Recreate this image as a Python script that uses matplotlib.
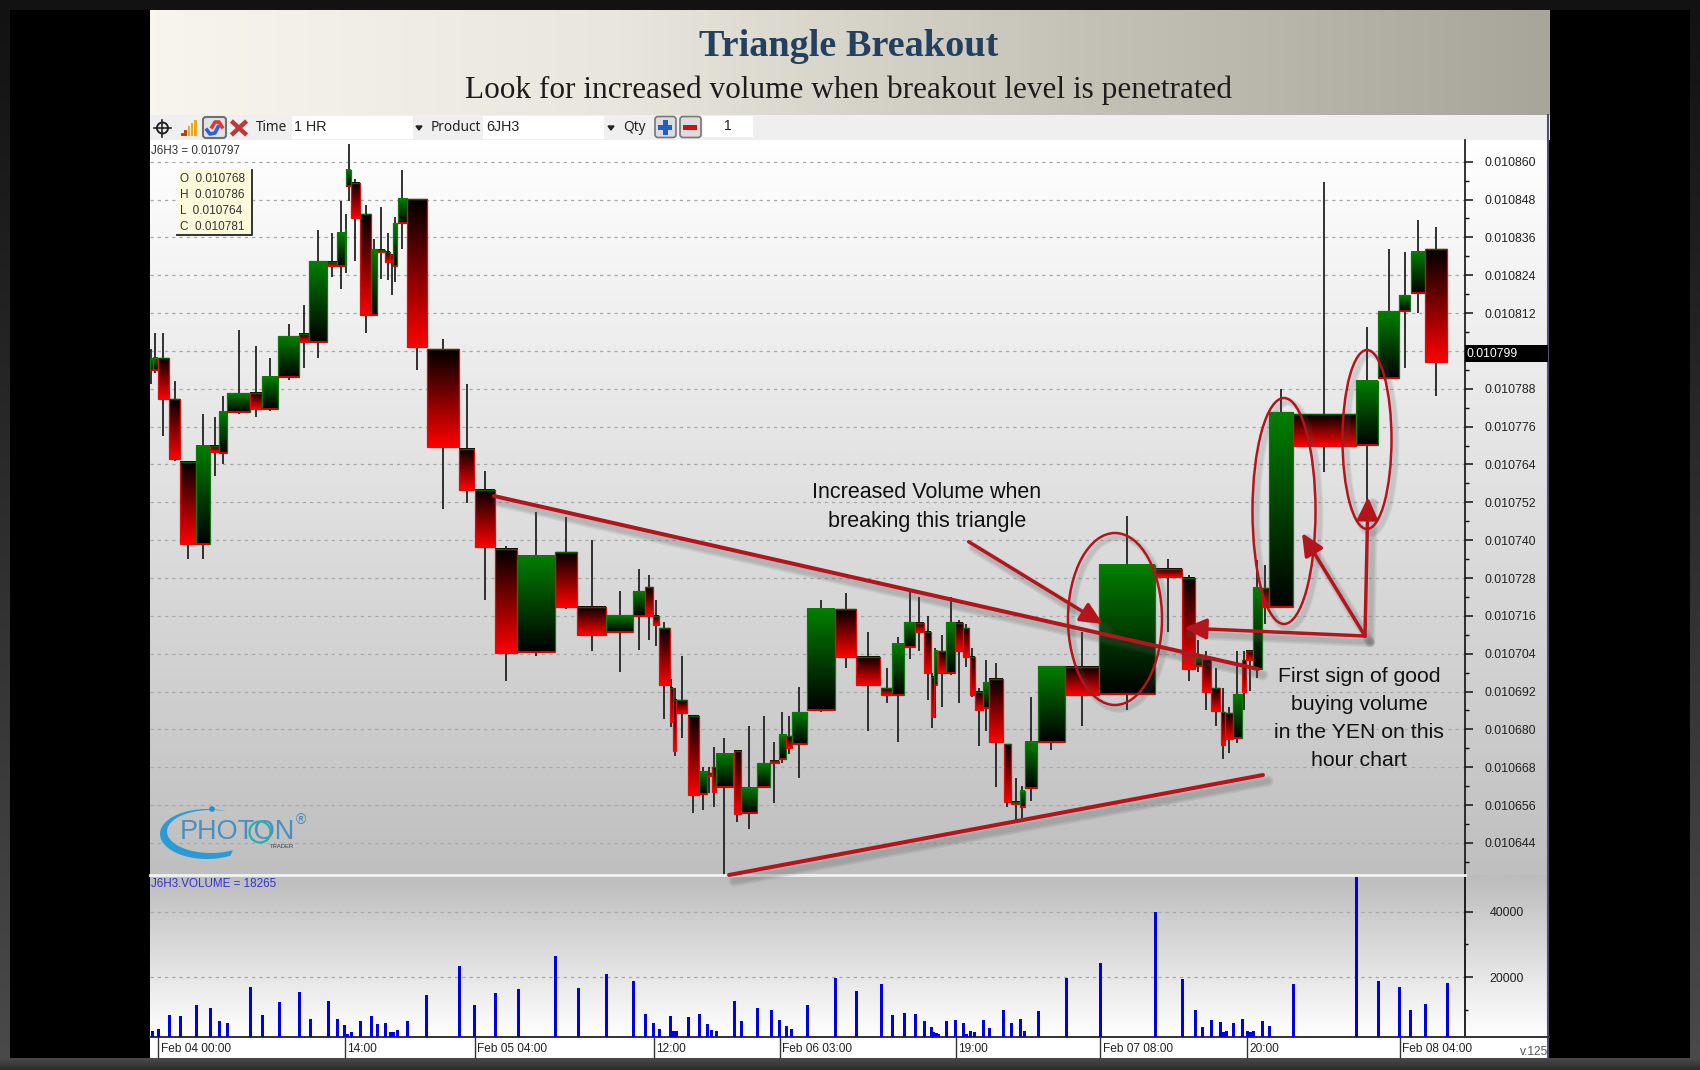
import numpy as np
import matplotlib
matplotlib.use("Agg")
import matplotlib.pyplot as plt
from matplotlib.colors import LinearSegmentedColormap
from matplotlib.patches import Rectangle, Ellipse, Circle, FancyBboxPatch

# candles: prices are in millionths above 0.010000, x positions are chart pixels
# (the platform draws candles with a width that follows volume)
candle_left = [150, 152.9, 157.9, 169.3, 180.4, 195.7, 210, 219.3, 227.1, 250,
               261.8, 278.2, 298.9, 309.3, 327.1, 337.5, 345, 346.4, 351.1, 360.4,
               371.1, 377.5, 385.4, 390, 393.2, 397.9, 407.1, 427.1, 458.9, 475,
               495, 517.5, 554.6, 577.5, 606.4, 632.9, 645, 652.9, 658.9, 670,
               673.2, 676.4, 687.9, 698.6, 706.8, 712.1, 715.7, 733.6, 741.4, 757.1,
               770, 778.6, 786.4, 791.8, 807.5, 835, 856.4, 880.7, 892.5, 904.3,
               915, 924.3, 931.1, 933.6, 937.9, 946.4, 955, 963.2, 970, 974.6,
               983.2, 988.9, 1003.6, 1011.1, 1020, 1024.6, 1038, 1065, 1099.3, 1155,
               1182.3, 1195, 1202, 1211.3, 1220.7, 1225, 1233.3, 1242.3, 1246, 1253.3,
               1261.7, 1268.7, 1293.3, 1356, 1378.3, 1399.3, 1410.7, 1425.3]
candle_right = [152.9, 157.9, 168.6, 180, 195.7, 210, 219.3, 226.8, 250, 261.8,
                277.9, 298.9, 309.3, 327.1, 337.5, 345, 346.4, 351.1, 359.6, 371.1,
                377.5, 385.4, 390, 393.2, 397.1, 407.1, 426.8, 458.6, 474.3, 494.6,
                517.5, 554.6, 576.8, 606, 632.9, 645, 652.9, 658.6, 669.6, 672.9,
                676.4, 687.5, 698.6, 706.8, 712.1, 715.7, 733.2, 741.4, 756.8, 770,
                778.6, 786.4, 791.8, 807.1, 835, 856.1, 880.4, 892.5, 903.9, 915,
                923.9, 931.1, 933.6, 937.1, 946.4, 955, 962.9, 969.3, 974.6, 982.9,
                988.9, 1002.9, 1011.1, 1020, 1024.6, 1037.5, 1065, 1099.3, 1155, 1181.7,
                1195, 1202, 1211, 1220, 1225, 1233.3, 1241.7, 1246, 1253.3, 1261.7,
                1268.7, 1293.3, 1355.7, 1378, 1399, 1410.3, 1425.3, 1447]
opens = [794, 793.8, 797.7, 784.8, 764.9, 738.7, 769.9, 767.6, 780.6, 786.6,
         781.5, 791.7, 805.4, 802.8, 828.2, 826.8, 826.8, 852.3, 853.4, 843.3,
         811.5, 832.1, 831.5, 830.5, 827, 840.5, 848.3, 800.5, 768.8, 755.8,
         737.1, 704.4, 736.1, 718.8, 710.9, 716.1, 725, 716, 712, 693,
         689.3, 689.2, 684.3, 659.4, 666.1, 668.2, 661.7, 673.3, 653.4, 661.9,
         670.1, 670.5, 678, 675.3, 686, 718.1, 703.1, 693, 690.9, 706,
         713.8, 711, 696.7, 694.1, 704.9, 698, 713.8, 712, 703.1, 692,
         686.9, 696, 675.3, 657.1, 655.3, 661.3, 676.1, 699.9, 691.1, 730.9,
         728.1, 700.2, 702.2, 693, 685.4, 685.1, 677.2, 702, 704.9, 699.2,
         724.7, 718.9, 779.9, 770.2, 791.5, 812.7, 818.3, 832.3]
closes = [797.7, 797.7, 784.8, 765.8, 738.7, 769.9, 767.8, 780.6, 786.6, 781.5,
          791.7, 804.6, 802.7, 828.4, 826.8, 837.3, 838.4, 857.4, 842.2, 811.4,
          832.4, 831.4, 828.3, 828.1, 840.5, 848.3, 801.4, 769.7, 755.8, 737.7,
          704.1, 735, 718.7, 709.8, 716.2, 723.9, 716, 713, 694.1, 682.2,
          673, 685.1, 659.2, 666.4, 665.3, 660.3, 672.2, 653.1, 661.4, 669.4,
          669.3, 678.2, 674.2, 685.4, 718.3, 703.1, 694.1, 690.9, 707.1, 713.9,
          710.9, 698, 684, 705, 698, 713.9, 704.9, 703.1, 690.9, 686,
          695, 675.9, 657.1, 656.4, 660.5, 676.1, 700.1, 690.9, 732.1, 728.2,
          699.2, 703.1, 692, 685.9, 675.1, 677, 691.1, 692, 702, 724.9,
          718.9, 780.7, 769.9, 790.6, 812.7, 817.7, 831.5, 796.5]
highs = [800.5, 805.6, 805.6, 790.6, 764.9, 780, 778.9, 785.7, 806.7, 801.6,
         797.9, 808.6, 814.6, 838.4, 837.3, 847.4, 843.3, 865.5, 854.4, 846.3,
         835.5, 845.6, 837.3, 830.5, 842.4, 857.4, 848.3, 803.8, 789.6, 761.8,
         738, 748.8, 747.2, 740, 723.9, 731, 728.9, 721, 713.9, 696,
         693, 703.3, 684.3, 668.2, 668.2, 674.3, 677.2, 673.3, 681.1, 684.4,
         676.1, 685.4, 684.3, 693.3, 721, 723.2, 711, 699.4, 709.4, 723.7,
         721.9, 716.1, 698, 705.9, 710, 722.1, 714.7, 713.4, 705.9, 693,
         702, 701.2, 675.3, 664.5, 662.1, 690.4, 700.1, 711, 747.8, 733.9,
         729, 708.4, 705, 699.4, 693, 687.2, 705, 705, 704.9, 733.7,
         732.1, 787.8, 853.5, 807.7, 832.3, 831.5, 841.5, 839.4]
lows = [789.6, 792.9, 772.9, 765.1, 734, 734, 760.2, 764, 779.9, 779,
        780.8, 790.8, 794.7, 797.9, 823.6, 819.6, 824.6, 847.4, 828.4, 805.8,
        811.4, 822.8, 822.5, 817.8, 821.8, 832.4, 794, 750, 751.9, 721,
        695.2, 703.4, 718.2, 705, 698.3, 705.2, 708.4, 706.3, 683.3, 680.7,
        671.6, 677.4, 653.4, 654.5, 659.8, 655.5, 633.9, 650.6, 648.4, 661.7,
        656.6, 669.5, 672.2, 664.5, 685.4, 699.4, 679.5, 688.3, 676.1, 702.2,
        705, 689.3, 680.4, 683.5, 687.2, 697.3, 688.3, 699.9, 690.4, 674.6,
        679.6, 661.7, 655.5, 651.3, 651.8, 657.3, 673.5, 681.2, 686.2, 711,
        695.2, 698.3, 686.2, 681.1, 670.5, 672.4, 675.6, 686.2, 692.3, 696.2,
        713.3, 718.9, 761.7, 745, 791, 794.7, 811.9, 785.7]

volume_x = [152.6, 158.4, 169.6, 180.7, 196.2, 210.8, 220, 227.3, 251, 262.2,
            279.1, 300, 310.1, 328.1, 337.8, 344.6, 347.5, 351.3, 360.1, 371.2,
            378, 385.8, 390.6, 393.5, 397.9, 407.1, 427, 459.4, 475, 495.3,
            519, 555.4, 578.2, 606.8, 633.5, 646, 653.8, 659.2, 670.3, 673.2,
            676.6, 688.2, 699.4, 707.6, 711.5, 716.3, 734.3, 742, 757.5, 771.1,
            779.4, 786.6, 792, 807.5, 835.6, 856.4, 881.1, 892.3, 904.6, 915.6,
            924.5, 931.3, 933.9, 936.5, 938.6, 946.9, 955.8, 963.7, 966.3, 970.5,
            974.7, 983.6, 989.3, 1004, 1011.8, 1020.7, 1024.9, 1038.5, 1066.2, 1100.2,
            1155.6, 1182.3, 1195.4, 1202.7, 1211.1, 1220.5, 1223.1, 1226.2, 1233.6, 1242.4,
            1247.7, 1250.8, 1254, 1262.8, 1269.6, 1293.7, 1356.5, 1378.4, 1399.9, 1410.9,
            1425.5, 1447.5]
volumes = [3430, 4250, 8330, 8020, 11390, 10680, 6600, 5880, 16900, 8330,
           12400, 15470, 7310, 12720, 7210, 5470, 2720, 3130, 6600, 8230,
           5580, 5880, 3130, 3330, 3740, 6600, 14450, 23430, 11390, 15160,
           16490, 26490, 16590, 21080, 18940, 8640, 5880, 4150, 8230, 3430,
           3430, 7920, 8640, 5580, 3740, 3430, 12720, 6600, 10680, 9960,
           6900, 5170, 4150, 11390, 19650, 15880, 17920, 8330, 8940, 8640,
           6600, 4860, 3130, 2920, 2720, 6600, 6900, 5880, 2720, 3430,
           3130, 6900, 4450, 9960, 5880, 7210, 3430, 9660, 19650, 24450,
           39950, 19380, 9990, 4900, 6940, 6220, 3160, 3470, 5920, 7240,
           3470, 3160, 3470, 6630, 5200, 17950, 50490, 18970, 16930, 9990,
           11730, 18265]

price_ticks = list(range(644, 861, 12))
volume_ticks = [20000, 40000]
time_x = [158.4, 344.6, 475, 653.8, 779.9, 955.8, 1100.2, 1247, 1399.9]
time_labels = ["Feb 04 00:00", "14:00", "Feb 05 04:00", "12:00", "Feb 06 03:00",
               "19:00", "Feb 07 08:00", "20:00", "Feb 08 04:00"]
ohlc_labels = ["O  0.010768", "H  0.010786", "L  0.010764", "C  0.010781"]

W, H = 1700, 1070
SANS = "Liberation Sans"
SERIF = "Liberation Serif"
LINE_RED = "#b4141c"
plt.rcParams["font.family"] = [SANS, "DejaVu Sans"]


def gradient(ax, x0, x1, y0, y1, c0, c1, horizontal=False, zorder=1):
    # y0 is the top edge in the axes' own data units
    cmap = LinearSegmentedColormap.from_list("g", [c0, c1])
    ramp = np.linspace(0, 1, 128)
    ramp = ramp.reshape(1, -1) if horizontal else ramp.reshape(-1, 1)
    ax.imshow(ramp, extent=(x0, x1, y1, y0), origin="upper", aspect="auto",
              cmap=cmap, vmin=0, vmax=1, zorder=zorder, interpolation="bilinear")


def pixel_axes(fig, zorder):
    ax = fig.add_axes([0, 0, 1, 1], zorder=zorder)
    ax.set_xlim(0, W)
    ax.set_ylim(H, 0)
    ax.axis("off")
    ax.patch.set_alpha(0)
    return ax


def pane_axes(fig, x0, x1, y0, y1, zorder=2):
    ax = fig.add_axes([x0 / W, 1 - y1 / H, (x1 - x0) / W, (y1 - y0) / H], zorder=zorder)
    ax.patch.set_alpha(0)
    return ax


fig = plt.figure(figsize=(W / 100, H / 100), dpi=100, facecolor="#141414")

# ---- frame, header band, pane backgrounds
bg = pixel_axes(fig, 0)
gradient(bg, 0, W, 0, H, "#121212", "#4a4a4a")
gradient(bg, 0, W, 1058, H, "#4a4a4a", "#2c2c2c", zorder=1.1)
bg.add_patch(Rectangle((10, 10), 1680, 1048, fc="black", ec="none", zorder=2))
cmap_head = LinearSegmentedColormap.from_list("h", ["#f8f5ee", "#e9e6dd", "#c4c1b6", "#a8a69a"])
bg.imshow(np.linspace(0, 1, 256).reshape(1, -1), extent=(150, 1550, 115, 10), aspect="auto",
          cmap=cmap_head, zorder=3)
bg.add_patch(Rectangle((150, 115), 1400, 25, fc="#efefef", ec="none", zorder=3))
gradient(bg, 150, 1549, 140, 875, "#ffffff", "#bfbfbf", zorder=3)
gradient(bg, 150, 1549, 875, 1037, "#bcbcbc", "#ffffff", zorder=3)
bg.add_patch(Rectangle((150, 1037), 1399, 21, fc="white", ec="none", zorder=3))
bg.plot([1548.5, 1548.5], [115, 1058], color="#50506e", lw=1.5, zorder=4)
bg.set_xlim(0, W)
bg.set_ylim(H, 0)

bg.text(849, 47, "Triangle Breakout", family=SERIF, weight="bold", fontsize=27.5,
        color="#24405f", ha="center", va="center", zorder=5)
bg.text(849, 90, "Look for increased volume when breakout level is penetrated", family=SERIF,
        fontsize=22.5, color="#1c1c1c", ha="center", va="center", zorder=5)

# ---- toolbar
bg.add_patch(Rectangle((292, 116), 121, 23, fc="white", ec="none", zorder=4))
bg.add_patch(Rectangle((483, 116), 121, 23, fc="white", ec="none", zorder=4))
bg.add_patch(Rectangle((703, 116), 50, 21, fc="white", ec="none", zorder=4))
bg.add_patch(Circle((162.5, 128), 5.5, fc="none", ec="#222222", lw=1.4, zorder=5))
bg.plot([154, 171], [128, 128], color="#222222", lw=1.2, zorder=5)
bg.plot([162.5, 162.5], [119.5, 136.5], color="#222222", lw=1.2, zorder=5)
for i, bar_h in enumerate([3, 6, 10, 13, 16]):
    bg.add_patch(Rectangle((181 + i * 3.3, 136 - bar_h), 2.6, bar_h,
                           fc="#b04a10" if i < 2 else "#e8a820", ec="none", zorder=5))
bg.add_patch(FancyBboxPatch((203, 117), 23, 21, boxstyle="round,pad=0,rounding_size=3",
                            fc="#e2e2e2", ec="#707070", lw=1.5, zorder=5))
bg.plot([207, 210, 215, 218], [130, 134, 133, 127], color="#2a62d8", lw=2.6, zorder=6)
bg.plot([212, 215, 219, 222], [127, 122, 122, 127], color="#d83a3a", lw=2.6, zorder=6)
bg.plot([233, 245], [122.5, 133.5], color="#b83a3a", lw=3.2, zorder=5)
bg.plot([233, 245], [133.5, 122.5], color="#b83a3a", lw=3.2, zorder=5)
for x, s in [(256, "Time"), (431, "Product"), (623, "Qty")]:
    bg.text(x, 127.5, s, fontsize=9.8, color="#222222", va="center", family="Noto Sans", zorder=6)
bg.text(294, 127, "1 HR", fontsize=10.3, color="#222222", va="center", zorder=6)
bg.text(486, 127, "6JH3", fontsize=10.3, color="#222222", va="center", zorder=6)
bg.text(728, 126, "1", fontsize=10, color="#222222", ha="center", va="center", zorder=6)
for x in [419, 611]:
    bg.fill([x - 3, x + 3, x], [126, 126, 130], color="#222222", zorder=6)
for x, mark in [(655, "#2060c0"), (680, "#d01010")]:
    bg.add_patch(FancyBboxPatch((x, 116.5), 21, 21, boxstyle="round,pad=0,rounding_size=3",
                                fc="#dcdcdc", ec="#777777", lw=1.2, zorder=5))
    bg.add_patch(Rectangle((x + 3.5, 125), 14, 4.5, fc=mark, ec="none", zorder=6))
bg.add_patch(Rectangle((662.8, 120), 5, 14.5, fc="#2060c0", ec="none", zorder=6))

# ---- price pane
ax = pane_axes(fig, 150, 1465, 140, 875)
ylim_price = (860 - (875 - 161.7) / 3.154, 860 + (161.7 - 140) / 3.154)
ax.set_xlim(150, 1465)
ax.set_ylim(*ylim_price)
ax.yaxis.tick_right()
ax.set_yticks(price_ticks)
ax.set_yticks([t + 6 for t in price_ticks[:-1]] + [638], minor=True)
# the 0.010800 label sits under the current price tag
ax.set_yticklabels(["" if t == 800 else f"{0.01 + t * 1e-6:.6f}" for t in price_ticks],
                   fontsize=8.9, color="#222222")
ax.tick_params(axis="y", which="major", length=5.7, width=1.1, pad=8, color="#111111")
ax.tick_params(axis="y", which="minor", length=2.9, width=1, color="#111111")
ax.set_xticks([])
for side in ["left", "top", "bottom"]:
    ax.spines[side].set_visible(False)
ax.spines["right"].set_linewidth(1.2)
ax.spines["right"].set_color("#111111")
for t in price_ticks:
    ax.axhline(t, color="#a8a8a8", lw=0.9, ls=(0, (2.6, 3.2)), zorder=1)

for l, r, o, c, hi, lo in zip(candle_left, candle_right, opens, closes, highs, lows):
    mid = (l + r) / 2
    ax.plot([mid, mid], [lo, hi], color="#222222", lw=1.3, zorder=2, solid_capstyle="butt")
    body_top, body_bottom = max(o, c), min(o, c)
    if c >= o:
        gradient(ax, l, r, body_top, body_bottom, "#008000", "#000000", zorder=3)
        ax.add_patch(Rectangle((l, body_bottom), r - l, body_top - body_bottom, fc="none",
                               ec="#107810", lw=0.9, zorder=4))
        ax.plot([l, r], [body_bottom, body_bottom], color="#e00000", lw=1.3, zorder=4, solid_capstyle="butt")
    else:
        gradient(ax, l, r, body_top, body_bottom, "#000000", "#ff0000", zorder=3)
        ax.add_patch(Rectangle((l, body_bottom), r - l, body_top - body_bottom, fc="none",
                               ec="#d81010", lw=0.9, zorder=4))
        ax.plot([l, r], [body_top, body_top], color="#0a5a0a", lw=1, zorder=4, solid_capstyle="butt")
ax.set_xlim(150, 1465)
ax.set_ylim(*ylim_price)

# ---- volume pane
vax = pane_axes(fig, 150, 1465, 875, 1037)
vax.set_xlim(150, 1465)
vax.set_ylim(1715, 51240)
vax.bar(volume_x, volumes, width=3, color="#0000e6", zorder=3)
vax.yaxis.tick_right()
vax.set_yticks(volume_ticks)
vax.set_yticks([10000, 30000], minor=True)
vax.set_yticklabels([str(v) for v in volume_ticks], fontsize=8.9, color="#222222")
vax.tick_params(axis="y", which="major", length=5.7, width=1.1, pad=12, color="#111111")
vax.tick_params(axis="y", which="minor", length=2.2, width=1, color="#111111")
for v in volume_ticks:
    vax.axhline(v, color="#a8a8a8", lw=0.9, ls=(0, (2.6, 3.2)), zorder=1)
vax.set_xticks(time_x)
vax.set_xticklabels([])
vax.tick_params(axis="x", length=15, width=1, color="#333333")
for side in ["left", "top"]:
    vax.spines[side].set_visible(False)
vax.spines["right"].set_linewidth(1.2)
vax.spines["bottom"].set_bounds(150, 1465)
vax.spines["bottom"].set_color("#333333")
vax.spines["bottom"].set_linewidth(1.4)

# ---- overlay: labels and hand-drawn markup, in figure pixels
top = pixel_axes(fig, 3)
top.plot([1465, 1549], [1037, 1037], color="#333333", lw=1.4)
top.plot([150, 1465], [874.5, 874.5], color="#f2f2f2", lw=2)
for x, s in zip(time_x, time_labels):
    top.text(x + 2.5, 1049, s, fontsize=8.6, color="#222222", va="center")
top.text(1548, 1052, "v.125", fontsize=8.6, color="#555555", va="center", ha="right")
top.text(151, 151, "J6H3 = 0.010797", fontsize=8.4, color="#333333", va="center")
top.text(151, 884, "J6H3.VOLUME = 18265", fontsize=8.4, color="#3333cc", va="center")

# current price tag and OHLC box
top.add_patch(Rectangle((1465.5, 345), 83, 17, fc="black", ec="none"))
top.text(1466.5, 354, "0.010799", fontsize=8.7, color="white", va="center")
top.add_patch(Rectangle((177.5, 170), 74, 64, fc="#fdfadc", ec="none"))
top.plot([177.5, 252, 252], [234.5, 234.5, 170], color="#333333", lw=1.4)
for i, s in enumerate(ohlc_labels):
    top.text(180, 178.5 + 16 * i, s, fontsize=8.5, color="#333333", va="center")

top.text(927, 493, "Increased Volume when", fontsize=15.5, color="#111111", ha="center", va="center")
top.text(927, 521, "breaking this triangle", fontsize=15.5, color="#111111", ha="center", va="center")
for i, s in enumerate(["First sign of good", "buying volume", "in the YEN on this", "hour chart"]):
    top.text(1359, 676 + 28.2 * i, s, fontsize=15.3, color="#111111", ha="center", va="center")


def markup_shadow(x0, y0, x1, y1, lw):
    # soft grey offset to imitate the slide's drop shadow
    for extra in [5, 3, 1]:
        top.plot([x0 + 5, x1 + 5], [y0 + 6, y1 + 6], color="#555555", alpha=0.1, lw=lw + extra,
                 zorder=4, solid_capstyle="round")


def markup_line(x0, y0, x1, y1, lw=2.9):
    markup_shadow(x0, y0, x1, y1, lw)
    top.plot([x0, x1], [y0, y1], color=LINE_RED, lw=lw, zorder=5, solid_capstyle="round")


def markup_arrow(x0, y0, x1, y1):
    markup_shadow(x0, y0, x1, y1, 2.5)
    top.annotate("", xy=(x1, y1), xytext=(x0, y0), zorder=5,
                 arrowprops=dict(arrowstyle="-|>,head_length=0.9,head_width=0.42", mutation_scale=15,
                                 lw=2.5, color=LINE_RED, shrinkA=0, shrinkB=0))


def markup_ellipse(cx, cy, w, h):
    for extra in [4, 2]:
        top.add_patch(Ellipse((cx + 4, cy + 4), w, h, fc="none", ec="#555555", alpha=0.1, lw=1.5 + extra, zorder=4))
    top.add_patch(Ellipse((cx, cy), w, h, fc="none", ec=LINE_RED, lw=1.8, zorder=5))


markup_line(494, 496, 1258, 669)
markup_line(729, 875, 1263, 775)
markup_arrow(968.6, 541.7, 1103, 624)
markup_arrow(1365, 636, 1184, 628)
markup_arrow(1365, 636, 1302, 533)
markup_arrow(1365, 636, 1368, 497)
markup_ellipse(1115, 619, 94, 172)
markup_ellipse(1284, 511, 63, 226)
markup_ellipse(1367, 439.5, 49, 179)

# ---- logo
t = np.radians(np.linspace(290, 60, 120))
outer_x = 207 + 47 * np.cos(t)
outer_y = 834 + 25 * np.sin(t)
inner_x = 211 + 44 * np.cos(t)
inner_y = 831.5 + 21.5 * np.sin(t)
top.fill(np.r_[outer_x, inner_x[::-1]], np.r_[outer_y, inner_y[::-1]], color="#2a9bd6", ec="none", zorder=3)
top.add_patch(Circle((212, 809), 2.8, fc="#1f8fd0", ec="none", zorder=3))
top.text(237, 832, "PHOTON", family=SANS, fontsize=19.5, color="#4a8fc0", ha="center", va="center", zorder=3)
top.add_patch(Circle((260, 832), 10.5, fc="none", ec="#2ab0a8", lw=1.6, zorder=3))
top.text(301, 820, "\u00ae", fontsize=10, color="#3d82b4", ha="center", va="center", zorder=3)
top.text(282, 846, "TRADER", fontsize=4.2, color="#444444", ha="center", va="center", zorder=3)

fig.savefig("out.png", dpi=100, facecolor=fig.get_facecolor())
